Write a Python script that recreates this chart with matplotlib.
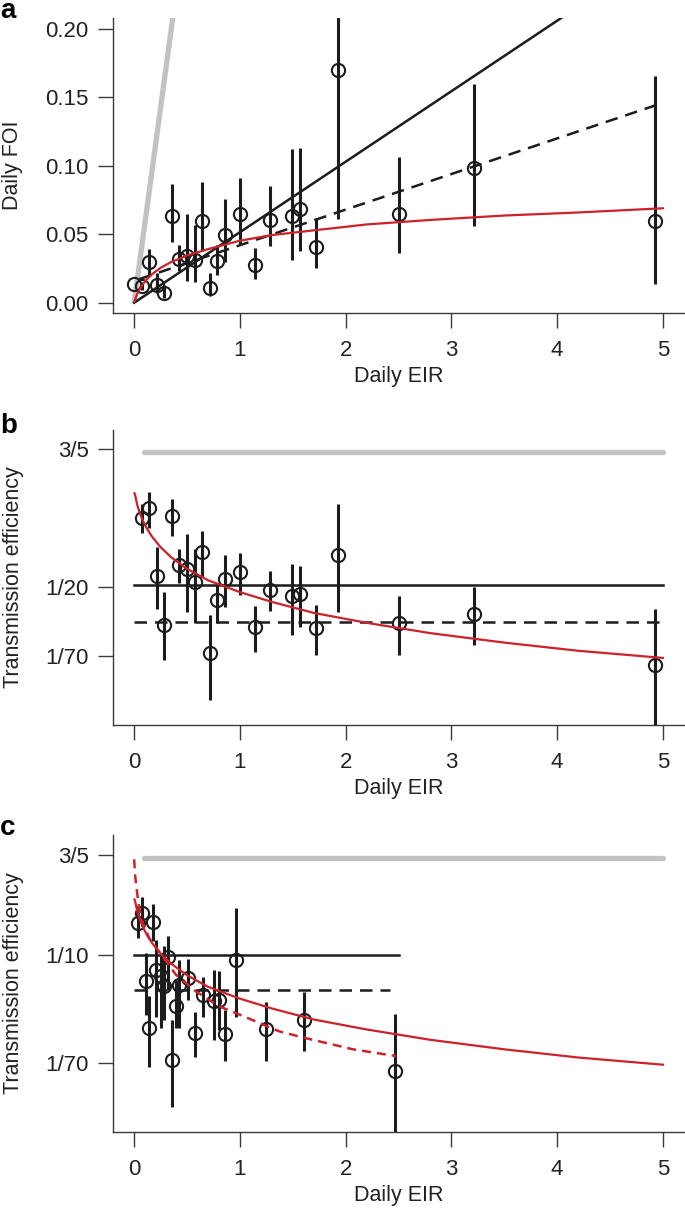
import numpy as np
import matplotlib
matplotlib.use("Agg")
import matplotlib.pyplot as plt

plt.rcParams['font.family'] = ['Liberation Sans', 'DejaVu Sans']

# ---------------- data ----------------
# Panel a/b : daily EIR, daily FOI and its interval
eir_ab = [0.0, 0.07, 0.142, 0.215, 0.287, 0.354, 0.427, 0.496, 0.575, 0.641, 0.714,
          0.78, 0.856, 1.0, 1.144, 1.286, 1.495, 1.57, 1.72, 1.927, 2.5, 3.216, 4.93]
foi_ab = [0.0139, 0.012, 0.0294, 0.0131, 0.0072, 0.063, 0.0317, 0.0342, 0.0312, 0.06, 0.0108,
          0.0308, 0.0492, 0.0648, 0.0275, 0.0605, 0.063, 0.0688, 0.0406, 0.17, 0.065, 0.0987, 0.06]
foi_lo = [0.0139, 0.0092, 0.0205, 0.0072, 0.0038, 0.0443, 0.023, 0.0156, 0.0148, 0.038, 0.0046,
          0.0203, 0.0298, 0.043, 0.0175, 0.0414, 0.031, 0.038, 0.0252, 0.0612, 0.0362, 0.0558, 0.0136]
foi_hi = [0.0139, 0.0155, 0.039, 0.0218, 0.013, 0.0866, 0.0425, 0.0645, 0.0565, 0.0883, 0.0214,
          0.042, 0.076, 0.0914, 0.0403, 0.0853, 0.1126, 0.113, 0.0616, 0.43, 0.1061, 0.1598, 0.1655]

# Panel c : daily EIR, transmission efficiency and interval
eir_c = [0.032, 0.073, 0.11, 0.142, 0.18, 0.205, 0.253, 0.284, 0.322, 0.357, 0.395,
         0.427, 0.506, 0.575, 0.648, 0.758, 0.8, 0.86, 0.964, 1.248, 1.608, 2.464]
eff_c = [0.177, 0.21, 0.0618, 0.0265, 0.18, 0.0763, 0.0676, 0.0565, 0.0953, 0.015, 0.0394,
         0.0582, 0.0656, 0.0243, 0.048, 0.0436, 0.0444, 0.024, 0.0903, 0.0263, 0.0309, 0.0124]
eff_c_lo = [0.135, 0.167, 0.0338, 0.0133, 0.127, 0.0328, 0.0266, 0.0309, 0.0531, 0.0064, 0.0266,
            0.0266, 0.0444, 0.0158, 0.0328, 0.0215, 0.0258, 0.0148, 0.0328, 0.0148, 0.0177, 0.003]
eff_c_hi = [0.239, 0.284, 0.103, 0.0471, 0.247, 0.131, 0.097, 0.116, 0.141, 0.0309, 0.0637,
            0.0914, 0.0925, 0.0359, 0.0668, 0.0762, 0.074, 0.0366, 0.232, 0.043, 0.0506, 0.0343]

# red model curve (efficiency)
curve_eir = [0.003, 0.01, 0.03, 0.05, 0.08, 0.12, 0.17, 0.25, 0.35, 0.5, 0.7, 1.0, 1.3,
             1.7, 2.2, 2.8, 3.5, 4.2, 5.0]
curve_eff = [0.27, 0.26, 0.218, 0.192, 0.166, 0.143, 0.123, 0.102, 0.085, 0.069, 0.056,
             0.0453, 0.038, 0.0311, 0.026, 0.0216, 0.0182, 0.0157, 0.0138]

# red dashed curve, panel c
curve2_eir = [0.0, 0.01, 0.032, 0.063, 0.142, 0.268, 0.395, 0.585, 0.806, 0.964, 1.374,
              1.627, 2.07, 2.48]
curve2_eff = [0.556, 0.411, 0.286, 0.194, 0.135, 0.097, 0.0697, 0.0515, 0.0394, 0.0349,
              0.0251, 0.0222, 0.0182, 0.0161]

# straight reference lines
gray_eff = 0.57
solid_eff_ab = 0.0515
dashed_eff_b = 0.0265
dashed_a_x = [0.05, 4.93]
dashed_a_y = [0.0173, 0.1442]
solid_eff_c = 0.1
dashed_eff_c = 0.0533

xticks = [0, 1, 2, 3, 4, 5]
a_yticks = [0.0, 0.05, 0.10, 0.15, 0.20]
a_yticklabels = ['0.00', '0.05', '0.10', '0.15', '0.20']
b_yticks = [3 / 5, 1 / 20, 1 / 70]
b_yticklabels = ['3/5', '1/20', '1/70']
c_yticks = [3 / 5, 1 / 10, 1 / 70]
c_yticklabels = ['3/5', '1/10', '1/70']

# ---------------- styling ----------------
BLACK = '#1c1c1c'
RED = '#cc2229'
GRAY = '#c2c2c2'
AX = '#3a3a3a'
TXT = '#222222'
W, H = 685, 1209

fig = plt.figure(figsize=(W / 100, H / 100), dpi=100)


def make_ax(top, bottom):
    left, right = 113, 684
    return fig.add_axes([left / W, 1 - bottom / H, (right - left) / W, (bottom - top) / H])


def style(ax):
    for s in ['top', 'right']:
        ax.spines[s].set_visible(False)
    for s in ['left', 'bottom']:
        ax.spines[s].set_color(AX)
        ax.spines[s].set_linewidth(1.0)
    ax.tick_params(direction='out', length=10.5, width=1.0, color=AX, labelsize=16,
                   labelcolor=TXT, pad=7)
    ax.tick_params(axis='x', pad=9)
    ax.tick_params(which='minor', length=0)
    ax.set_xlim(-0.2, 5.2)
    ax.set_xticks(xticks)
    ax.set_xlabel('Daily EIR', fontsize=15.5, color=TXT)
    ax.xaxis.set_label_coords(0.5, -0.178)


def points(ax, x, y, lo, hi):
    ax.vlines(x, lo, hi, color=BLACK, lw=2.2, zorder=3)
    ax.plot(x, y, 'o', mfc='none', mec=BLACK, ms=9.5, mew=1.5, zorder=4)


eir_ab_a = np.array(eir_ab)
foi = np.array(foi_ab)
lo = np.array(foi_lo)
hi = np.array(foi_hi)
cx = np.array(curve_eir)
ce = np.array(curve_eff)

# ---------------- panel a ----------------
ax = make_ax(18, 313)
style(ax)
ax.set_ylim(-0.0075, 0.208)
ax.set_yticks(a_yticks)
ax.set_yticklabels(a_yticklabels)
ax.set_ylabel('Daily FOI', fontsize=15.5, color=TXT)
ax.yaxis.set_label_coords(-0.158, 0.5)
xs = np.array([0, 5.0])
ax.plot(xs, gray_eff * xs, color=GRAY, lw=3.8, solid_capstyle='butt', zorder=1)
points(ax, eir_ab_a, foi, lo, hi)
ax.plot(xs, solid_eff_ab * xs, color=BLACK, lw=1.8, zorder=5)
ax.plot(dashed_a_x, dashed_a_y, color=BLACK, lw=1.8, ls=(0, (5, 3.2)), zorder=5)
ax.plot(cx, cx * ce, color=RED, lw=1.6, zorder=6)
fig.text(0.0, 1 - 18 / H, 'a', fontsize=20, fontweight='bold', va='baseline', ha='left')

# ---------------- panel b ----------------
ax = make_ax(430, 725)
style(ax)
ax.set_yscale('log')
ax.set_ylim(0.00411, 0.846)
ax.set_yticks(b_yticks)
ax.set_yticklabels(b_yticklabels)
ax.yaxis.set_minor_locator(matplotlib.ticker.NullLocator())
ax.set_ylabel('Transmission efficiency', fontsize=15.5, color=TXT)
ax.yaxis.set_label_coords(-0.155, 0.5)
m = eir_ab_a > 0
ex = eir_ab_a[m]
ax.plot([0.09, 5.0], [gray_eff, gray_eff], color=GRAY, lw=3.8, solid_capstyle='round', zorder=1)
points(ax, ex, foi[m] / ex, lo[m] / ex, hi[m] / ex)
ax.plot([0, 5.0], [solid_eff_ab, solid_eff_ab], color=BLACK, lw=1.8, zorder=5)
ax.plot([0, 5.0], [dashed_eff_b, dashed_eff_b], color=BLACK, lw=1.8, ls=(0, (5, 3.2)), zorder=5)
ax.plot(cx, ce, color=RED, lw=1.6, zorder=6)
fig.text(0.0, 1 - 433 / H, 'b', fontsize=20, fontweight='bold', va='baseline', ha='left')

# ---------------- panel c ----------------
ax = make_ax(835, 1132)
style(ax)
ax.set_yscale('log')
ax.set_ylim(0.00411, 0.861)
ax.set_yticks(c_yticks)
ax.set_yticklabels(c_yticklabels)
ax.yaxis.set_minor_locator(matplotlib.ticker.NullLocator())
ax.set_ylabel('Transmission efficiency', fontsize=15.5, color=TXT)
ax.yaxis.set_label_coords(-0.155, 0.5)
ax.plot([0.09, 5.0], [gray_eff, gray_eff], color=GRAY, lw=3.8, solid_capstyle='round', zorder=1)
points(ax, eir_c, eff_c, eff_c_lo, eff_c_hi)
ax.plot([0, 2.5], [solid_eff_c, solid_eff_c], color=BLACK, lw=1.8, zorder=5)
ax.plot([0, 2.42], [dashed_eff_c, dashed_eff_c], color=BLACK, lw=1.8, ls=(0, (5, 3.2)), zorder=5)
ax.plot(cx, ce, color=RED, lw=1.6, zorder=6)
ax.plot(curve2_eir, curve2_eff, color=RED, lw=1.8, ls=(0, (3.6, 2.4)), zorder=6)
fig.text(0.0, 1 - 835 / H, 'c', fontsize=20, fontweight='bold', va='baseline', ha='left')

fig.savefig('out.png', dpi=100)
